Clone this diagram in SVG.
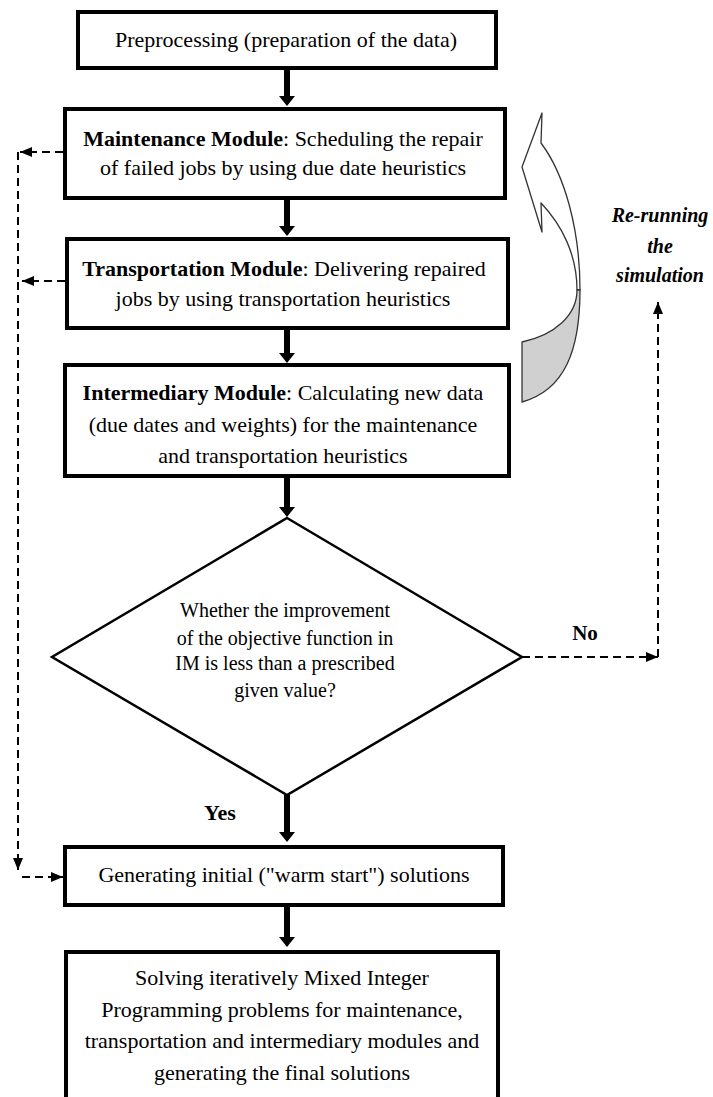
<svg xmlns="http://www.w3.org/2000/svg" width="713" height="1097" viewBox="0 0 713 1097">
<style>
.box{fill:#fff;stroke:#000;stroke-width:4}
.dia{fill:#fff;stroke:#000;stroke-width:2.5}
.t{font-family:"Liberation Serif","Times New Roman",serif;font-size:22px;fill:#000;text-anchor:middle}
.b{font-weight:bold}
.d{font-size:20px}
.bi{font-weight:bold;font-style:italic;font-size:20px}
.thick{stroke:#000;stroke-width:6;fill:none}
.dash{stroke:#000;stroke-width:2;stroke-dasharray:8 5;fill:none}
.loop{stroke:#333;stroke-width:1.3;stroke-linejoin:round}
</style>
<defs>
<marker id="hT" markerUnits="userSpaceOnUse" markerWidth="11" markerHeight="18" refX="0" refY="8" orient="auto" viewBox="0 0 11 16" overflow="visible">
<path d="M0,0 L10,8 L0,16 Z" fill="#000"/>
</marker>
<marker id="hD" markerUnits="userSpaceOnUse" markerWidth="13" markerHeight="11" refX="12" refY="5" orient="auto" viewBox="0 0 13 10" overflow="visible">
<path d="M0,0 L12,5 L0,10 Z" fill="#000"/>
</marker>
</defs>

<g id="n1-preprocessing">
<rect class="box" x="78" y="12" width="418" height="56"/>
<text class="t" x="286" y="47">Preprocessing (preparation of the data)</text>
</g>

<g id="n2-maintenance">
<rect class="box" x="65" y="109" width="440" height="89"/>
<text class="t" x="283" y="146"><tspan class="b">Maintenance Module</tspan>: Scheduling the repair</text>
<text class="t" x="283" y="175">of failed jobs by using due date heuristics</text>
</g>

<g id="n3-transportation">
<rect class="box" x="67" y="239" width="441" height="89"/>
<text class="t" x="284" y="276"><tspan class="b">Transportation Module</tspan>: Delivering repaired</text>
<text class="t" x="283" y="306">jobs by using transportation heuristics</text>
</g>

<g id="n4-intermediary">
<rect class="box" x="65" y="365" width="444" height="111"/>
<text class="t" x="283" y="400"><tspan class="b">Intermediary Module</tspan>: Calculating new data</text>
<text class="t" x="283" y="432">(due dates and weights) for the maintenance</text>
<text class="t" x="283" y="463">and transportation heuristics</text>
</g>

<g id="n5-decision">
<polygon class="dia" points="287,518 522,657 287,795 52,657"/>
<text class="t d" x="285" y="617">Whether the improvement</text>
<text class="t d" x="285" y="645">of the objective function in</text>
<text class="t d" x="285" y="670">IM is less than a prescribed</text>
<text class="t d" x="285" y="697">given value?</text>
</g>

<g id="n6-warmstart">
<rect class="box" x="65" y="847" width="438" height="58"/>
<text class="t" x="284" y="882">Generating initial ("warm start") solutions</text>
</g>

<g id="n7-mip">
<rect class="box" x="66" y="952" width="432" height="170"/>
<text class="t" x="282" y="985">Solving iteratively Mixed Integer</text>
<text class="t" x="282" y="1017">Programming problems for maintenance,</text>
<text class="t" x="282" y="1048">transportation and intermediary modules and</text>
<text class="t" x="282" y="1080">generating the final solutions</text>
</g>

<g id="rerun-label">
<text class="t bi" x="660" y="222">Re-running</text>
<text class="t bi" x="660" y="253">the</text>
<text class="t bi" x="660" y="282">simulation</text>
</g>

<g id="connectors">
<path class="thick" d="M287,70 L287,96" marker-end="url(#hT)"/>
<path class="thick" d="M287,200 L287,226" marker-end="url(#hT)"/>
<path class="thick" d="M287,330 L287,353" marker-end="url(#hT)"/>
<path class="thick" d="M287,478 L287,507" marker-end="url(#hT)"/>
<path class="thick" d="M287,795 L287,832" marker-end="url(#hT)"/>
<path class="thick" d="M287,907 L287,937" marker-end="url(#hT)"/>

<path class="dash" d="M63,152 L20,152" marker-end="url(#hD)"/>
<path class="dash" d="M65,281 L22,281" marker-end="url(#hD)"/>
<path class="dash" d="M18,152 L18,870" marker-end="url(#hD)"/>
<path class="dash" d="M22,877 L63,877" marker-end="url(#hD)"/>

<path class="dash" d="M522,657 L658,657" marker-end="url(#hD)"/>
<path class="dash" d="M658,657 L658,302" marker-end="url(#hD)"/>

<text class="t b" x="585" y="640" style="font-size:21px">No</text>
<text class="t b" x="220" y="820">Yes</text>

<g id="loop-arrow">
<path class="loop" fill="#fff" d="M541,143 L542,113 L522,167 L542,232 L541,203 C562,225 577,255 577,290 L580,290 C580,230 565,175 541,143 Z"/>
<path class="loop" fill="#d0d0d0" d="M577,290 C577,315 555,335 522,342 L522,402 C565,390 580,350 580,290 Z"/>
</g>
</g>
</svg>
